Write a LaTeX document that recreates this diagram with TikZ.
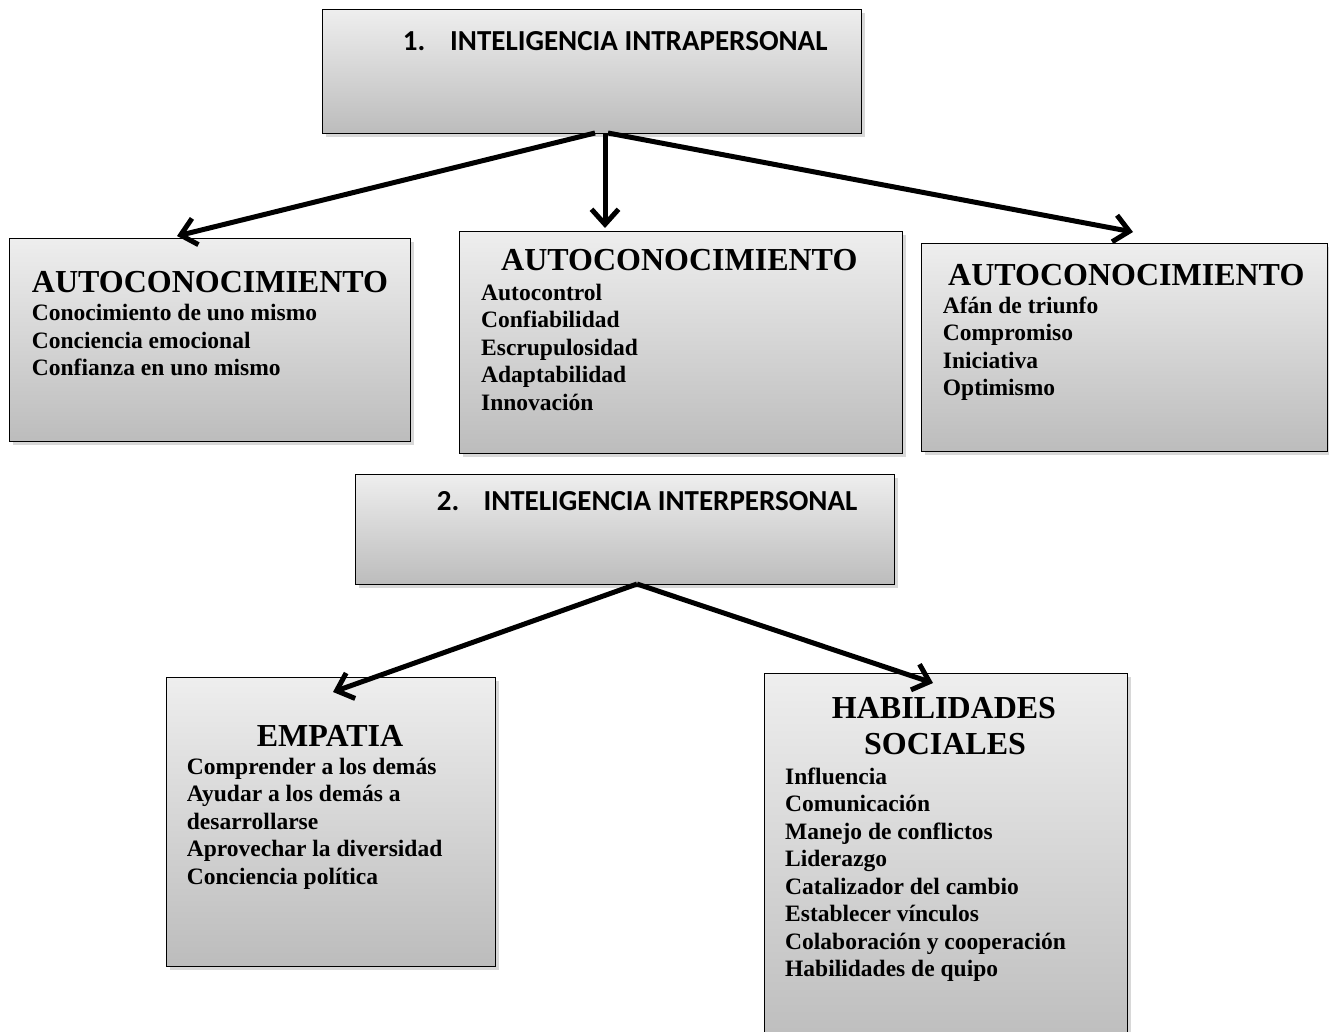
\documentclass[tikz,border=0pt]{standalone}
\usepackage{fontspec}
\setmainfont{Liberation Serif}
\newfontfamily\hdrfont{Carlito}
\usetikzlibrary{arrows.meta,shadows}
\definecolor{boxtop}{RGB}{238,238,238}
\definecolor{boxbot}{RGB}{188,188,188}
\begin{document}
\begin{tikzpicture}[x=1pt,y=-1pt,
  box/.style={draw=black, line width=1.4pt, top color=boxtop, bottom color=boxbot,
    drop shadow={shadow xshift=3pt,shadow yshift=-3pt,opacity=0.3},
    anchor=north west, inner sep=0pt},
  ttl/.style={font=\fontsize{32}{36}\selectfont\bfseries, inner sep=0pt, anchor=base west},
  itm/.style={font=\fontsize{23.5}{27.5}\selectfont\bfseries, inner sep=0pt, anchor=base west},
  hdr/.style={font=\hdrfont\fontsize{29}{32}\selectfont\bfseries, inner sep=0pt, anchor=base west},
  arr/.style={line width=5pt, -{Straight Barb[length=15pt,width=27pt]}}
]
\useasboundingbox (0,0) rectangle (1329,1031);
\fill[white] (0,0) rectangle (1329,1031);

% boxes
\node[box, minimum width=539pt, minimum height=124pt] (intra) at (322,9) {};
\node[box, minimum width=401pt, minimum height=203pt] (ba) at (9,238) {};
\node[box, minimum width=443pt, minimum height=222pt] (bb) at (459,231) {};
\node[box, minimum width=406pt, minimum height=208pt] (bc) at (921,243) {};
\node[box, minimum width=539pt, minimum height=110pt] (inter) at (355,474) {};
\node[box, minimum width=329pt, minimum height=289pt] (emp) at (166,677) {};
\node[box, minimum width=363pt, minimum height=380pt] (hab) at (764,673) {};

% headers
\node[hdr] (n1) at (402.7,50) {1.};
\node[hdr] (h1) at (450,50) {INTELIGENCIA INTRAPERSONAL};
\node[hdr] (n2) at (436.7,510) {2.};
\node[hdr] (h2) at (483.3,510) {INTELIGENCIA INTERPERSONAL};

% box A
\node[ttl] (ta) at (31.7,292) {AUTOCONOCIMIENTO};
\foreach \t [count=\i] in {Conocimiento de uno mismo, Conciencia emocional, Confianza en uno mismo}
  \node[itm] (ia\i) at (31.7,{320.5+(\i-1)*27.5}) {\t};

% box B
\node[ttl] (tb) at (501,270) {AUTOCONOCIMIENTO};
\foreach \t [count=\i] in {Autocontrol, Confiabilidad, Escrupulosidad, Adaptabilidad, Innovación}
  \node[itm] (ib\i) at (481,{300+(\i-1)*27.5}) {\t};

% box C
\node[ttl] (tc) at (948,285) {AUTOCONOCIMIENTO};
\foreach \t [count=\i] in {Afán de triunfo, Compromiso, Iniciativa, Optimismo}
  \node[itm] (ic\i) at (942.7,{313+(\i-1)*27.5}) {\t};

% EMPATIA
\node[ttl, anchor=base] (te) at (330,746) {EMPATIA};
\foreach \t [count=\i] in {Comprender a los demás, Ayudar a los demás a, desarrollarse, Aprovechar la diversidad, Conciencia política}
  \node[itm] (ie\i) at (186.7,{774+(\i-1)*27.6}) {\t};

% HABILIDADES
\node[ttl, anchor=base] (th1) at (944,718) {HABILIDADES};
\node[ttl, anchor=base] (th2) at (945,754) {SOCIALES};
\foreach \t [count=\i] in {Influencia, Comunicación, Manejo de conflictos, Liderazgo, Catalizador del cambio, Establecer vínculos, Colaboración y cooperación, Habilidades de quipo}
  \node[itm] (ih\i) at (785,{784+(\i-1)*27.5}) {\t};

% connectors
\coordinate (s1l) at (595,133);
\coordinate (s1m) at (605,133);
\coordinate (s1r) at (608,133);
\coordinate (ea) at (177,236);
\coordinate (eb) at (605,228);
\coordinate (ec) at (1133,232);
\coordinate (s2) at (637,584);
\coordinate (ee) at (333,692);
\coordinate (eh) at (933,683);
\draw[arr] (s1l) -- (ea);
\draw[arr] (s1m) -- (eb);
\draw[arr] (s1r) -- (ec);
\draw[arr] (s2) -- (ee);
\draw[arr] (s2) -- (eh);
\end{tikzpicture}
\end{document}
